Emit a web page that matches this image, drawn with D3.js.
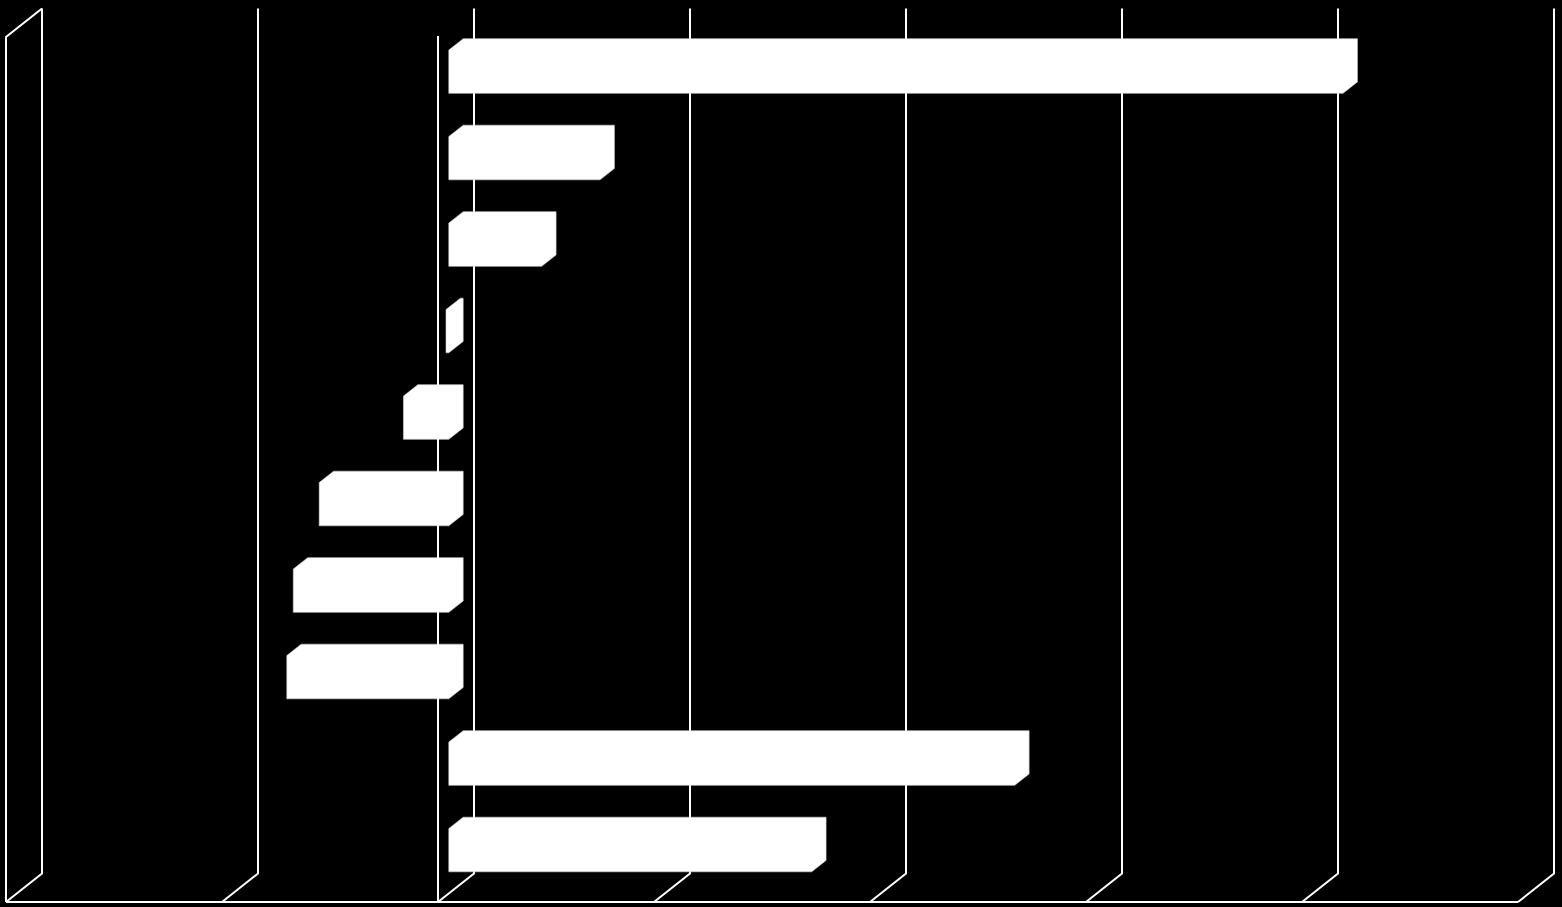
<!DOCTYPE html>
<html>
<head>
<meta charset="utf-8">
<script src="https://cdn.jsdelivr.net/npm/d3@7"></script>
<style>
  html, body { margin: 0; padding: 0; background: #000; }
  svg { display: block; }
</style>
</head>
<body>
<div id="chart"></div>
<script>
// categories (no labels are shown in the picture)
const categories = ["C1", "C2", "C3", "C4", "C5", "C6", "C7", "C8", "C9", "C10"];
const values = [41.4, 7.0, 4.3, -0.13, -2.1, -6.0, -7.2, -7.5, 26.2, 16.8];
const valueTicks = [-20, -10, 0, 10, 20, 30, 40, 50];

const width = 1562, height = 907;
const depth = { dx: 36, dy: -28.5 };   // oblique offset from front to back wall
const barZ = [0.3, 0.7];               // bar sits in the middle of the depth

const svg = d3.select("#chart").append("svg")
    .attr("width", width)
    .attr("height", height)
    .style("background", "#000");

// scales are in the front plane
const x = d3.scaleLinear().domain([-20, 50]).range([6, 1518]);
const y = d3.scaleBand().domain(categories).range([37, 902])
    .paddingInner(0.5).paddingOuter(0.25);
const plotTop = y.range()[0], plotBottom = y.range()[1];

const lineStyle = sel => sel.attr("fill", "none").attr("stroke", "#fff").attr("stroke-width", 2);

// back wall gridlines, plus their run across the floor to the front
const grid = svg.append("g");
valueTicks.forEach(t => {
    const fx = x(t);
    grid.append("polyline")
        .attr("points", [
            [fx + depth.dx, plotTop + depth.dy],
            [fx + depth.dx, plotBottom + depth.dy],
            [fx, plotBottom]
        ].join(" "))
        .call(lineStyle);
});

// left wall
grid.append("polyline")
    .attr("points", [
        [x(-20) + depth.dx, plotTop + depth.dy],
        [x(-20), plotTop],
        [x(-20), plotBottom]
    ].join(" "))
    .call(lineStyle);

// front edge of the floor
grid.append("line")
    .attr("x1", x(-20)).attr("x2", x(50))
    .attr("y1", plotBottom).attr("y2", plotBottom)
    .call(lineStyle);

// bars as boxes: front, top and right faces in one outline
function shift(p, z) { return [p[0] + depth.dx * z, p[1] + depth.dy * z]; }

svg.append("g").selectAll("polygon")
    .data(categories.map((c, i) => ({ cat: c, value: values[i] })))
    .enter().append("polygon")
    .attr("points", d => {
        const x0 = x(Math.min(0, d.value)), x1 = x(Math.max(0, d.value));
        const y0 = y(d.cat), y1 = y(d.cat) + y.bandwidth();
        const pts = [
            shift([x0, y1], barZ[0]),
            shift([x0, y0], barZ[0]),
            shift([x0, y0], barZ[1]),
            shift([x1, y0], barZ[1]),
            shift([x1, y1], barZ[1]),
            shift([x1, y1], barZ[0])
        ];
        return pts.map(p => p.join(",")).join(" ");
    })
    .attr("fill", "#fff")
    .attr("stroke", "#d0d0d0")
    .attr("stroke-width", 0.6);

// category axis at zero, in front of the bars
svg.append("line")
    .attr("x1", x(0)).attr("x2", x(0))
    .attr("y1", plotTop - 1).attr("y2", plotBottom)
    .call(lineStyle);
</script>
</body>
</html>
